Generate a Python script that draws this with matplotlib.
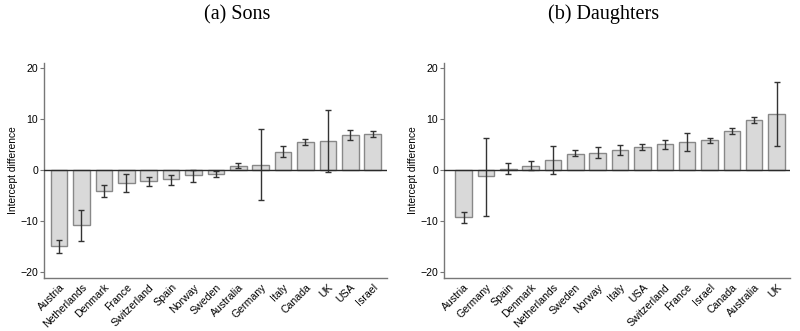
import matplotlib
matplotlib.use("Agg")
import matplotlib.pyplot as plt
import numpy as np

# (a) Sons
sons_countries = ["Austria", "Netherlands", "Denmark", "France", "Switzerland", "Spain",
                  "Norway", "Sweden", "Australia", "Germany", "Italy", "Canada", "UK",
                  "USA", "Israel"]
sons_values = [-14.9, -10.8, -4.1, -2.5, -2.2, -1.8, -1.05, -0.7, 0.9, 1.05, 3.6, 5.5,
               5.7, 6.85, 7.05]
sons_lower = [-16.25, -13.9, -5.2, -4.4, -3.1, -2.9, -2.4, -1.4, 0.4, -5.9, 2.6, 5.0,
              -0.4, 5.85, 6.5]
sons_upper = [-13.75, -7.8, -3.0, -0.8, -1.3, -0.9, 0.1, -0.1, 1.45, 8.0, 4.7, 6.1,
              11.9, 7.9, 7.6]

# (b) Daughters
daug_countries = ["Austria", "Germany", "Spain", "Denmark", "Netherlands", "Sweden",
                  "Norway", "Italy", "USA", "Switzerland", "France", "Israel", "Canada",
                  "Australia", "UK"]
daug_values = [-9.3, -1.25, 0.2, 0.85, 2.0, 3.2, 3.4, 4.0, 4.6, 5.05, 5.5, 5.85, 7.75,
               9.8, 11.0]
daug_lower = [-10.45, -9.0, -0.7, 0.0, -0.7, 2.7, 2.3, 3.0, 4.0, 4.15, 3.75, 5.3, 7.2,
              9.2, 4.7]
daug_upper = [-8.2, 6.25, 1.3, 1.85, 4.7, 3.9, 4.5, 4.9, 5.2, 6.0, 7.3, 6.4, 8.35,
              10.4, 17.4]

yticks = [-20, -10, 0, 10, 20]

fig = plt.figure(figsize=(8, 3.31), dpi=100)
ax1 = fig.add_axes([0.0554, 0.160, 0.4286, 0.650])
ax2 = fig.add_axes([0.5554, 0.160, 0.4321, 0.650])


def draw_panel(ax, countries, values, lower, upper, xlim):
    x = np.arange(len(countries))
    vals = np.array(values)
    err = [vals - np.array(lower), np.array(upper) - vals]
    ax.bar(x, vals, width=0.74, color="#d9d9d9", edgecolor="#888888", linewidth=1.0,
           zorder=2)
    ax.errorbar(x, vals, yerr=err, fmt="none", ecolor="#333333", elinewidth=1.0,
                capsize=2.5, capthick=1.0, zorder=3)
    ax.axhline(0, color="#2a2a2a", linewidth=1.0, zorder=4)
    ax.set_xlim(*xlim)
    ax.set_ylim(-21.25, 21.1)
    ax.set_yticks(yticks)
    ax.set_xticks(x)
    ax.set_xticklabels(countries, rotation=45, ha="right", rotation_mode="anchor",
                       fontsize=7.6, family="Liberation Sans")
    for lab in ax.get_yticklabels():
        lab.set_family("Liberation Sans")
        lab.set_fontsize(7.6)
    ax.tick_params(axis="x", length=0, pad=3)
    ax.tick_params(axis="y", length=3, width=0.8, color="#777777", pad=1.5)
    ax.set_ylabel("Intercept difference", fontsize=7.4, family="Liberation Sans",
                  labelpad=2)
    for side in ["top", "right"]:
        ax.spines[side].set_visible(False)
    for side in ["left", "bottom"]:
        ax.spines[side].set_color("#777777")
        ax.spines[side].set_linewidth(1.0)


draw_panel(ax1, sons_countries, sons_values, sons_lower, sons_upper, (-0.66, 14.65))
draw_panel(ax2, daug_countries, daug_values, daug_lower, daug_upper, (-0.86, 14.6))

fig.text(237 / 800, 1 - 14.5 / 331, "(a) Sons", ha="center", va="center",
         fontsize=14.5, family="Liberation Serif")
fig.text(604 / 800, 1 - 14.5 / 331, "(b) Daughters", ha="center", va="center",
         fontsize=14.5, family="Liberation Serif")

fig.savefig("out.png", dpi=100)
